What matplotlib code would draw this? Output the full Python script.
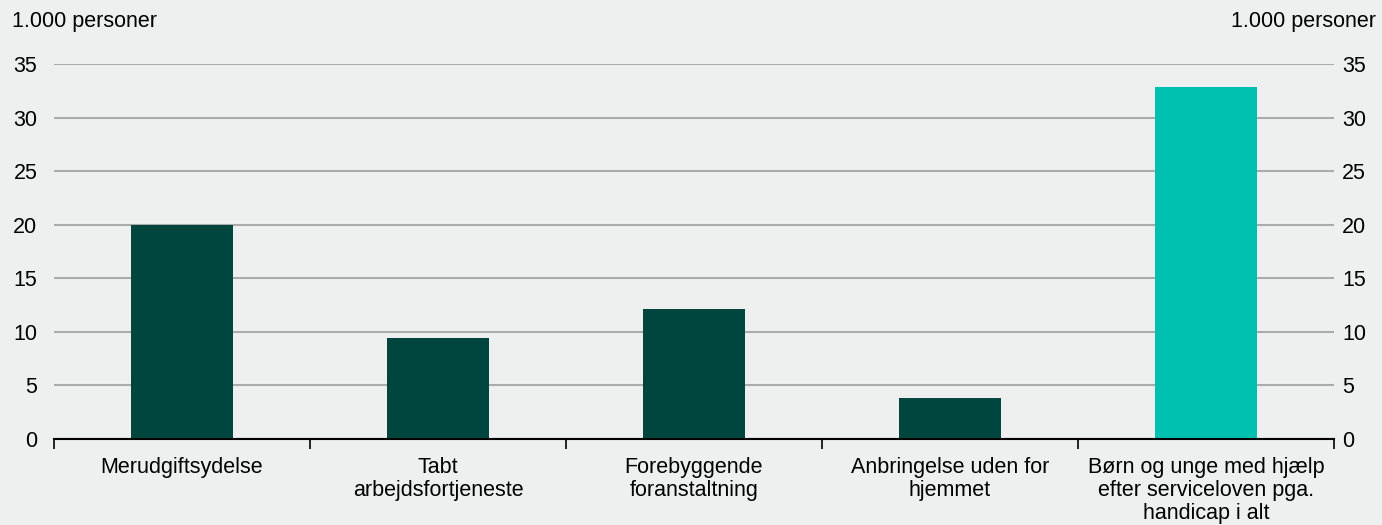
import matplotlib.pyplot as plt
import numpy as np

plt.rcParams['font.family'] = ['Liberation Sans', 'DejaVu Sans']

categories = ['Merudgiftsydelse', 'Tabt\narbejdsfortjeneste', 'Forebyggende\nforanstaltning',
              'Anbringelse uden for\nhjemmet', 'Børn og unge med hjælp\nefter serviceloven pga.\nhandicap i alt']
values = [20.0, 9.4, 12.1, 3.8, 32.9]
colors = ['#00463F', '#00463F', '#00463F', '#00463F', '#00C0B0']
yticks = [0, 5, 10, 15, 20, 25, 30, 35]

bg = '#EEF0EF'
fs = 15.5
fig = plt.figure(figsize=(13.82, 5.25), dpi=100, facecolor=bg)
ax = fig.add_axes([54 / 1382, 86 / 525, 1280 / 1382, 375 / 525])
ax.set_facecolor(bg)

x = np.arange(len(categories))
ax.bar(x, values, width=0.4, color=colors, zorder=3)

ax.set_xlim(-0.5, len(categories) - 0.5)
ax.set_ylim(0, 35)
ax.set_yticks(yticks)
ax.yaxis.grid(True, color='#ABABAB', linewidth=1.5, zorder=0)
ax.tick_params(axis='y', length=0, pad=12, labelsize=fs)

# right-hand axis labels
ax2 = ax.twinx()
ax2.set_ylim(0, 35)
ax2.set_yticks(yticks)
ax2.tick_params(axis='y', length=0, pad=6, labelsize=fs)
for s in ax2.spines.values():
    s.set_visible(False)

ax.set_xticks(x)
ax.set_xticklabels(categories, fontsize=fs, linespacing=1.12)
ax.tick_params(axis='x', length=0, pad=13)
ax.set_xticks(np.arange(-0.5, len(categories)), minor=True)
ax.tick_params(axis='x', which='minor', length=7, width=1.2, direction='out', color='black')

for s in ['top', 'left', 'right']:
    ax.spines[s].set_visible(False)
ax.spines['bottom'].set_linewidth(1.5)
ax.spines['bottom'].set_zorder(4)

fig.text(12 / 1382, 1 - 22 / 525, '1.000 personer', fontsize=fs, va='center', ha='left')
fig.text(1376 / 1382, 1 - 22 / 525, '1.000 personer', fontsize=fs, va='center', ha='right')

fig.savefig('out.png', dpi=100, facecolor=bg)
